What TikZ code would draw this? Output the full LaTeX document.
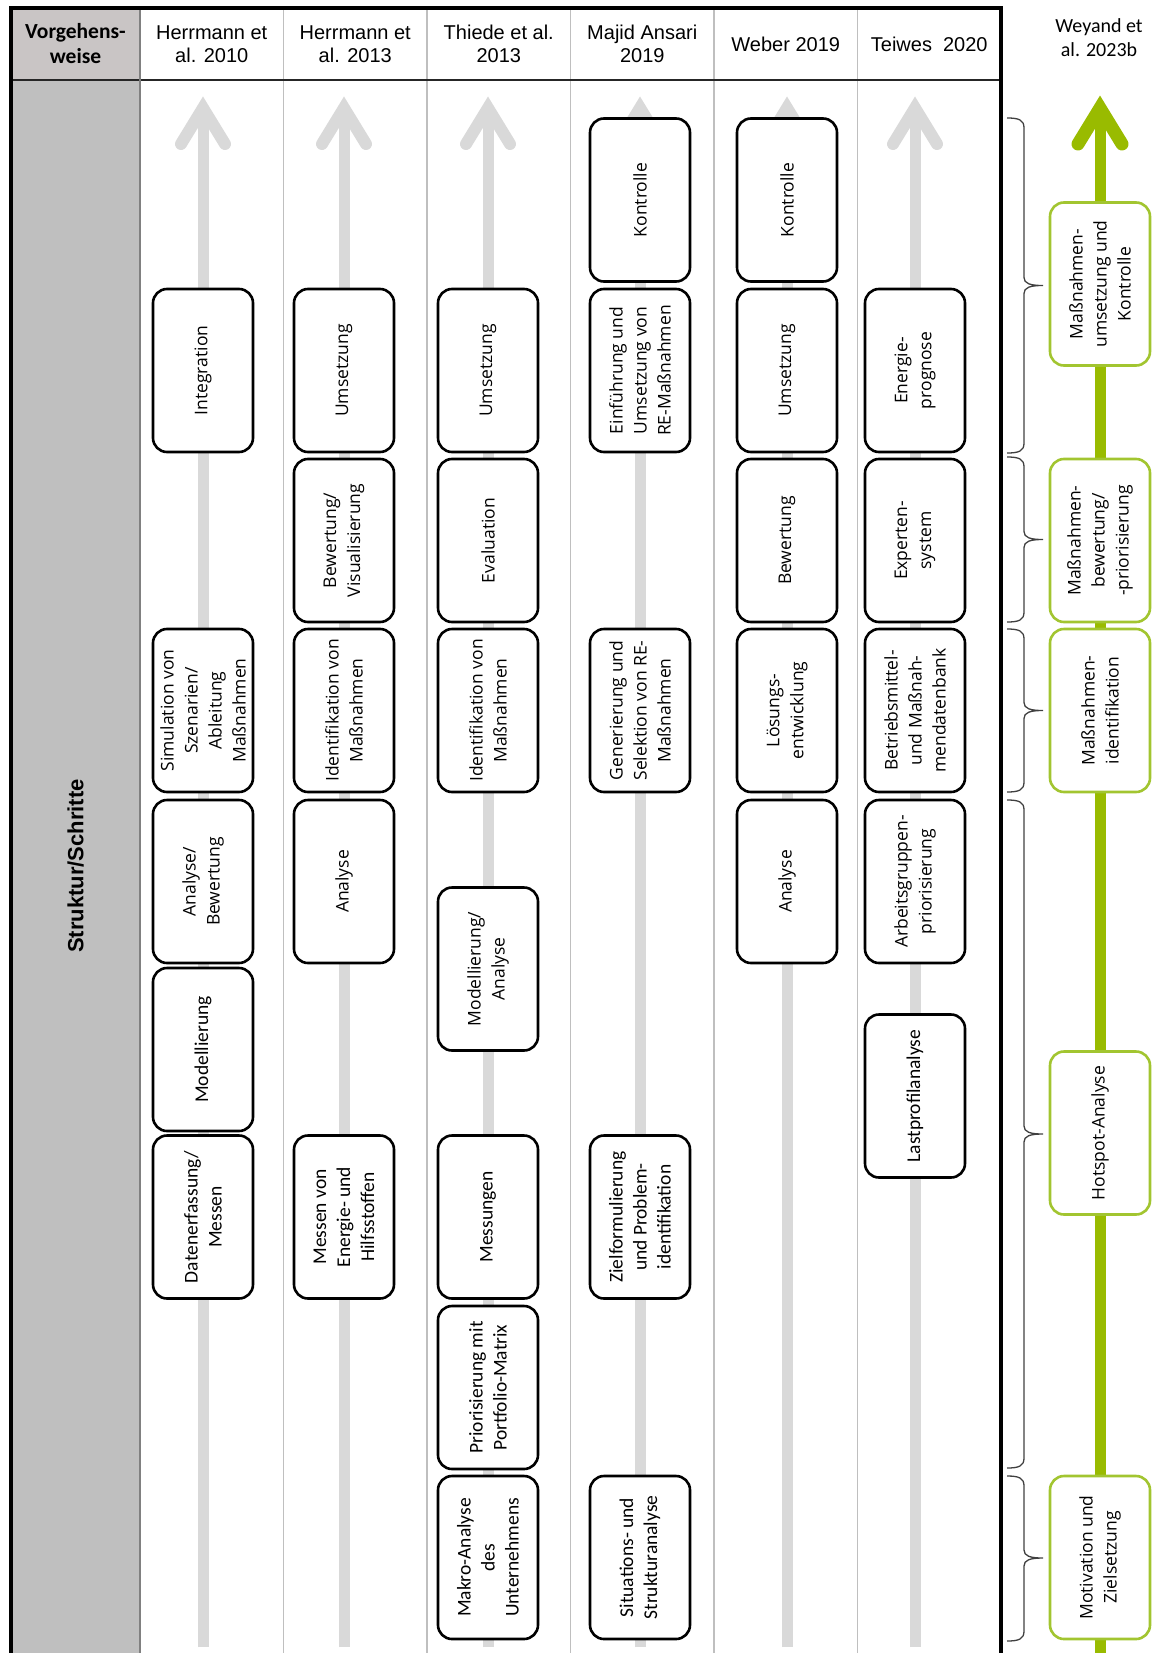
\documentclass[tikz,border=0pt]{standalone}
\usepackage{fontspec}
\usepackage{xcolor}
\usepackage{tikz}
\usetikzlibrary{positioning}
\setmainfont{Open Sans}
\newfontfamily\calibrifont{Carlito}
\newfontfamily\arialfont{Liberation Sans}
\definecolor{framegray}{HTML}{BFBFBF}
\definecolor{headgray}{HTML}{C9C5C5}
\definecolor{arrowgray}{HTML}{D9D9D9}
\definecolor{weygreen}{HTML}{99BB00}
\definecolor{boxgreen}{HTML}{A2C530}
\newcommand{\sidebrace}[3]{%
  \draw[bracestyle] (1007,#1) .. controls (1019,#1) and (1024,#1+2) .. (1024,#1+10)
    -- (1024,#2-8) .. controls (1024,#2-2) and (1030,#2) .. (1043,#2)
    .. controls (1030,#2) and (1024,#2+2) .. (1024,#2+8)
    -- (1024,#3-10) .. controls (1024,#3-2) and (1019,#3) .. (1007,#3);}

\begin{document}
\begin{tikzpicture}[x=1pt,y=-1pt,
  stepbox/.style={draw,rounded corners=14pt,line width=2.6pt,fill=white,rotate=90,minimum width=163pt,minimum height=100pt,inner sep=2pt,align=center,font=\fontsize{17.5}{24}\selectfont},
  stepcond/.style={stepbox,font=\calibrifont\fontsize{19.5}{24}\selectfont},
  greenbox/.style={stepbox,draw=boxgreen},
  head/.style={align=center,font=\arialfont\fontsize{20}{23}\selectfont},
  shaft/.style={arrowgray,line width=11pt},
  chevron/.style={arrowgray,line width=12pt,line cap=round,line join=miter},
  gshaft/.style={weygreen,line width=11pt},
  gchevron/.style={weygreen,line width=13pt,line cap=round,line join=miter},
  sepline/.style={framegray,line width=1.4pt},
  bracestyle/.style={black!75,line width=1.3pt}
]
\useasboundingbox (0,0) rectangle (1155,1653);
\fill[headgray] (11,8) rectangle (140,80);
\fill[framegray] (11,80) rectangle (140,1653);
\draw[sepline] (283.5,8) -- (283.5,1653) (427,8) -- (427,1653) (570.5,8) -- (570.5,1653) (714,8) -- (714,1653) (857.5,8) -- (857.5,1653);
\draw[black!85,line width=1.4pt] (11,80) -- (1001,80);
\draw[black!50,line width=1.4pt] (140,8) -- (140,1653);
\draw[line width=3.5pt,line join=miter] (11,1653) -- (11,8) -- (1001,8) -- (1001,1653);

\node[font=\calibrifont\bfseries\fontsize{21.5}{25}\selectfont,align=center] (vw) at (75.5,44) {Vorgehens-\\weise};
\node[rotate=90,font=\arialfont\bfseries\fontsize{22}{25}\selectfont] (ss) at (75.5,866) {Struktur/Schritte};
\node[head] (hd1) at (211.75,44) {Herrmann et\\al. 2010};
\node[head] (hd2) at (355.25,44) {Herrmann et\\al. 2013};
\node[head] (hd3) at (498.75,44) {Thiede et al.\\2013};
\node[head] (hd4) at (642.25,44) {Majid Ansari\\2019};
\node[head] (hd5) at (785.75,44) {Weber 2019};
\node[head] (hd6) at (929.25,44) {Teiwes~~2020};
\node[head,font=\calibrifont\fontsize{20}{24}\selectfont] (hd7) at (1099,38) {Weyand et\\al. 2023b};

\coordinate (a1b) at (203,1647); \coordinate (a1t) at (203,108);
\coordinate (a2b) at (344,1647); \coordinate (a2t) at (344,108);
\coordinate (a3b) at (488,1647); \coordinate (a3t) at (488,108);
\coordinate (a4b) at (640,1647); \coordinate (a4t) at (640,108);
\coordinate (a5b) at (787,1647); \coordinate (a5t) at (787,108);
\coordinate (a6b) at (915,1647); \coordinate (a6t) at (915,108);
\coordinate (a7b) at (1100,1653); \coordinate (a7t) at (1100,108);
\draw[shaft] (a1b) -- (a1t);
\draw[chevron] ([shift={(-22,36)}]a1t) -- (a1t) -- ([shift={(22,36)}]a1t);
\draw[shaft] (a2b) -- (a2t);
\draw[chevron] ([shift={(-22,36)}]a2t) -- (a2t) -- ([shift={(22,36)}]a2t);
\draw[shaft] (a3b) -- (a3t);
\draw[chevron] ([shift={(-22,36)}]a3t) -- (a3t) -- ([shift={(22,36)}]a3t);
\draw[shaft] (a4b) -- (a4t);
\draw[chevron] ([shift={(-22,36)}]a4t) -- (a4t) -- ([shift={(22,36)}]a4t);
\draw[shaft] (a5b) -- (a5t);
\draw[chevron] ([shift={(-22,36)}]a5t) -- (a5t) -- ([shift={(22,36)}]a5t);
\draw[shaft] (a6b) -- (a6t);
\draw[chevron] ([shift={(-22,36)}]a6t) -- (a6t) -- ([shift={(22,36)}]a6t);
\draw[gshaft] (a7b) -- (a7t);
\draw[gchevron] ([shift={(-22,36)}]a7t) -- (a7t) -- ([shift={(22,36)}]a7t);

\node[stepcond] (h10s1) at (203,1217) {Datenerfassung/\\Messen};
\node[stepcond] (h10s2) at (203,1049.5) {Modellierung};
\node[stepbox] (h10s3) at (203,881.5) {Analyse/\\Bewertung};
\node[stepbox] (h10s4) at (203,710.5) {Simulation von\\Szenarien/\\Ableitung\\Maßnahmen};
\node[stepbox] (h10s5) at (203,370.5) {Integration};

\node[stepcond] (h13s1) at (344,1217) {Messen von\\Energie- und\\Hilfsstoffen};
\node[stepbox] (h13s2) at (344,881.5) {Analyse};
\node[stepbox] (h13s3) at (344,710.5) {Identifikation von\\Maßnahmen};
\node[stepbox] (h13s4) at (344,540.5) {Bewertung/\\Visualisierung};
\node[stepbox] (h13s5) at (344,370.5) {Umsetzung};

\node[stepcond] (ths1) at (488,1557.5) {Makro-Analyse\\des\\Unternehmens};
\node[stepcond] (ths2) at (488,1387.5) {Priorisierung mit\\Portfolio-Matrix};
\node[stepcond] (ths3) at (488,1217) {Messungen};
\node[stepbox] (ths4) at (488,969) {Modellierung/\\Analyse};
\node[stepbox] (ths5) at (488,710.5) {Identifikation von\\Maßnahmen};
\node[stepbox] (ths6) at (488,540.5) {Evaluation};
\node[stepbox] (ths7) at (488,370.5) {Umsetzung};

\node[stepcond] (mas1) at (640,1557.5) {Situations- und\\Strukturanalyse};
\node[stepcond] (mas2) at (640,1217) {Zielformulierung\\und Problem-\\identifikation};
\node[stepbox] (mas3) at (640,710.5) {Generierung und\\Selektion von RE-\\Maßnahmen};
\node[stepbox] (mas4) at (640,370.5) {Einführung und\\Umsetzung von\\RE-Maßnahmen};
\node[stepbox] (mas5) at (640,200) {Kontrolle};

\node[stepbox] (wes1) at (787,881.5) {Analyse};
\node[stepbox] (wes2) at (787,710.5) {Lösungs-\\entwicklung};
\node[stepbox] (wes3) at (787,540.5) {Bewertung};
\node[stepbox] (wes4) at (787,370.5) {Umsetzung};
\node[stepbox] (wes5) at (787,200) {Kontrolle};

\node[stepcond] (tes1) at (915,1096) {Lastprofilanalyse};
\node[stepbox] (tes2) at (915,881.5) {Arbeitsgruppen-\\priorisierung};
\node[stepbox] (tes3) at (915,710.5) {Betriebsmittel-\\und Maßnah-\\mendatenbank};
\node[stepbox] (tes4) at (915,540.5) {Experten-\\system};
\node[stepbox] (tes5) at (915,370.5) {Energie-\\prognose};

\node[greenbox] (wys1) at (1100,1557.5) {Motivation und\\Zielsetzung};
\node[greenbox] (wys2) at (1100,1133) {Hotspot-Analyse};
\node[greenbox] (wys3) at (1100,710.5) {Maßnahmen-\\identifikation};
\node[greenbox] (wys4) at (1100,540.5) {Maßnahmen-\\bewertung/\\-priorisierung};
\node[greenbox] (wys5) at (1100,284) {Maßnahmen-\\umsetzung und\\Kontrolle};

\sidebrace{118}{285.5}{453}
\sidebrace{457}{539.5}{622}
\sidebrace{629}{710.5}{792}
\sidebrace{800}{1134}{1468}
\sidebrace{1476}{1558}{1641}
\end{tikzpicture}
\end{document}
